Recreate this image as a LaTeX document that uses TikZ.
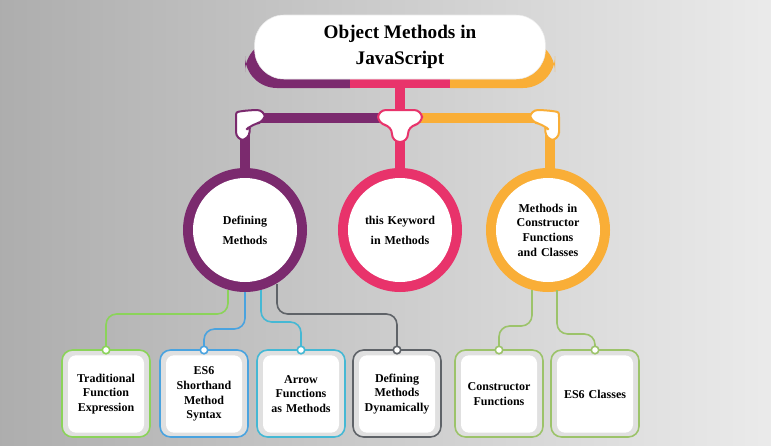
\documentclass[tikz,border=0pt]{standalone}
\usepackage{fontspec}
\setmainfont{Liberation Serif}
\usetikzlibrary{positioning}
\definecolor{cPurple}{HTML}{7B2A6E}
\definecolor{cPink}{HTML}{E8336B}
\definecolor{cOrange}{HTML}{F9AE37}
\definecolor{cGreen}{HTML}{8BD35A}
\definecolor{cBlue}{HTML}{4AA3DF}
\definecolor{cCyan}{HTML}{45B8D4}
\definecolor{cGray}{HTML}{5F6368}
\definecolor{cOlive}{HTML}{9CC36A}
\begin{document}
\begin{tikzpicture}[x=0.75pt, y=-0.75pt, every node/.style={font=\bfseries\small, align=center}]

\tikzstyle{topic} = [circle, minimum size=78pt, inner sep=0pt, fill=white, text width=62pt]
\tikzstyle{leaf} = [rectangle, rounded corners=6pt, minimum width=57pt, minimum height=58pt, fill=white, text width=55pt, inner sep=0pt, font=\bfseries\small]
\tikzstyle{frame} = [rounded corners=8pt, line width=1.2pt, fill=black!12]
\tikzstyle{link} = [line width=1.2pt, rounded corners=8pt]
\tikzstyle{dot} = [circle, fill=white, draw, line width=1.2pt, inner sep=2pt]

% Background
\shade[left color=black!32, right color=black!8] (0,0) rectangle (771,446);
\useasboundingbox (0,0) rectangle (771,446);

% Title band
\begin{scope}
\clip (240,30) rectangle (350,95);
\fill[cPurple, rounded corners=24pt] (245,40) rectangle (555,88);
\end{scope}
\fill[cPink] (350,78) rectangle (450,88);
\begin{scope}
\clip (450,30) rectangle (560,95);
\fill[cOrange, rounded corners=24pt] (245,40) rectangle (555,88);
\end{scope}
\node (title) [rectangle, rounded corners=22pt, fill=white, minimum width=218pt, minimum height=48pt, font=\bfseries\Large, draw=black!8] at (400,47) {Object Methods in\\[2pt] JavaScript};

% Trunk and branches
\fill[cPink] (395,86) rectangle (405,120);
\fill[cPurple] (245,113) rectangle (400,123);
\fill[cOrange] (400,113) rectangle (550,123);
\fill[cPurple] (240,118) rectangle (250,180);
\fill[cPink] (395,118) rectangle (405,180);
\fill[cOrange] (545,118) rectangle (555,180);

% Topic circles
\fill[cPurple] (245,230) circle (62);
\fill[cPink] (400,230) circle (62);
\fill[cOrange] (548,230) circle (62);
\node (define) [topic] at (245,230) {Defining\\[4pt] Methods};
\node (this) [topic] at (400,230) {this Keyword\\[4pt] in Methods};
\node (ctor) [topic] at (548,230) {Methods in\\ Constructor\\ Functions\\ and Classes};

% Joint caps
\fill[white, draw=cPurple, line width=1.5pt, rounded corners=6pt] (236,140) -- (236,125) .. controls (236,112) .. (250,110) -- (265,110) -- (265,122) -- (252,124) .. controls (250,126) .. (249,140) -- cycle;
\fill[white, draw=cPink, line width=1.5pt, rounded corners=6pt] (378,110) -- (422,110) -- (422,124) -- (408,126) -- (408,142) -- (392,142) -- (392,126) -- (378,124) -- cycle;
\fill[white, draw=cOrange, line width=1.5pt, rounded corners=6pt] (559,140) -- (559,125) .. controls (559,112) .. (545,110) -- (530,110) -- (530,122) -- (543,124) .. controls (545,126) .. (546,140) -- cycle;

% Leaf boxes
\foreach \cx/\col in {106/cGreen, 204/cBlue, 301/cCyan, 397/cGray, 499/cOlive, 595/cOlive}
  \draw[frame, draw=\col] (\cx-44,350) rectangle (\cx+44,437);
\node (trad) [leaf] at (106,394) {Traditional\\ Function\\ Expression};
\node (short) [leaf] at (204,394) {ES6\\ Shorthand\\ Method\\ Syntax};
\node (arrow) [leaf] at (301,394) {Arrow\\ Functions\\ as Methods};
\node (dyn) [leaf] at (397,394) {Defining\\ Methods\\ Dynamically};
\node (cfun) [leaf] at (499,394) {Constructor\\ Functions};
\node (cls) [leaf] at (595,394) {ES6 Classes};

% Connectors
\coordinate (d1) at (228,290);
\coordinate (d2) at (245,292);
\coordinate (d3) at (261,290);
\coordinate (d4) at (277,284);
\coordinate (c1) at (532,290);
\coordinate (c2) at (557,290);
\draw[link, cGreen] (d1) |- (106,314) -- (106,350);
\draw[link, cBlue] (d2) |- (204,329) -- (204,350);
\draw[link, cCyan] (d3) |- (301,322) -- (301,350);
\draw[link, cGray] (d4) |- (397,314) -- (397,350);
\draw[link, cOlive] (c1) |- (499,326) -- (499,350);
\draw[link, cOlive] (c2) |- (595,334) -- (595,350);
\foreach \cx/\col in {106/cGreen, 204/cBlue, 301/cCyan, 397/cGray, 499/cOlive, 595/cOlive}
  \node[dot, draw=\col] at (\cx,350) {};

\end{tikzpicture}
\end{document}
